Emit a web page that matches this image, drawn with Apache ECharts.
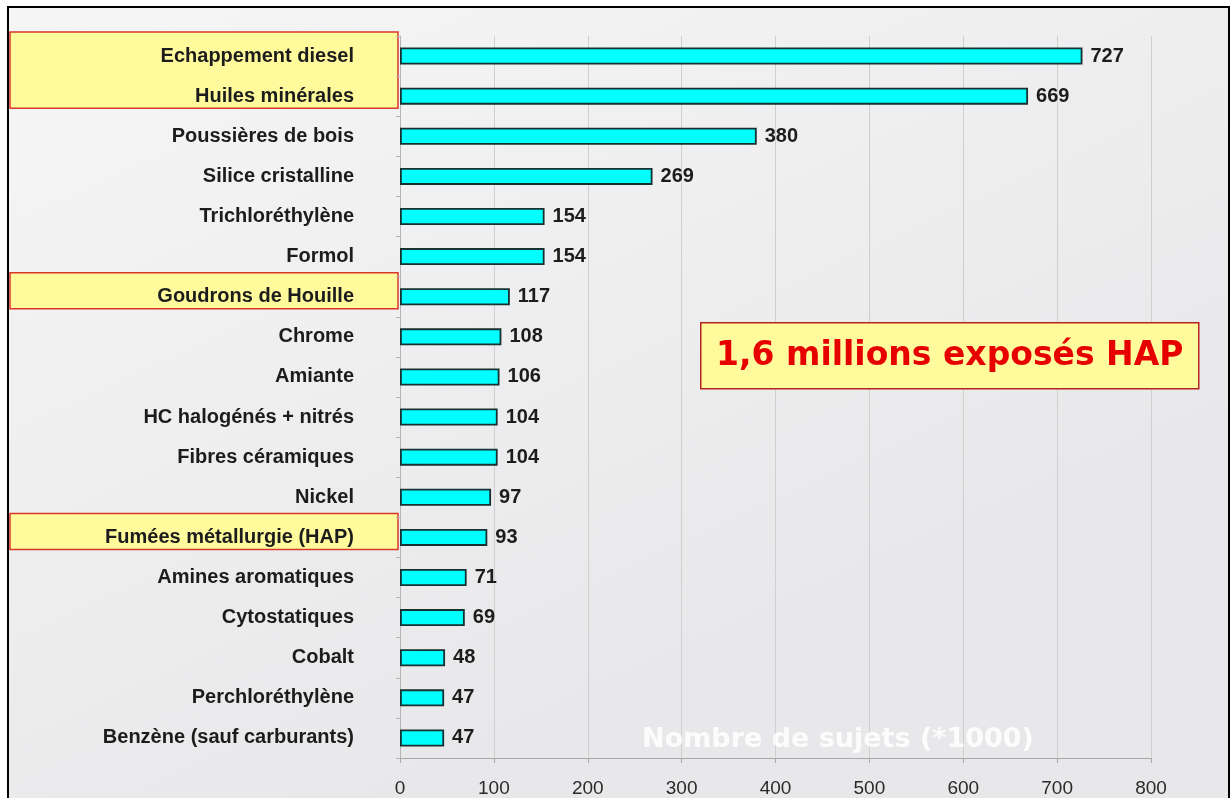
<!DOCTYPE html>
<html>
<head>
<meta charset="utf-8">
<script src="https://cdn.jsdelivr.net/npm/echarts@6.0.0/dist/echarts.min.js"></script>
<style>
    html, body { margin: 0; padding: 0; background: #ffffff; }
    #chart { width: 1231px; height: 798px; }
</style>
</head>
<body>
<div id="chart"></div>
<script>
const categories = [
    "Echappement diesel", "Huiles minérales", "Poussières de bois", "Silice cristalline",
    "Trichloréthylène", "Formol", "Goudrons de Houille", "Chrome", "Amiante",
    "HC halogénés + nitrés", "Fibres céramiques", "Nickel", "Fumées métallurgie (HAP)",
    "Amines aromatiques", "Cytostatiques", "Cobalt", "Perchloréthylène", "Benzène (sauf carburants)"
];
const sujets = [727, 669, 380, 269, 154, 154, 117, 108, 106, 104, 104, 97, 93, 71, 69, 48, 47, 47];

// groups of categories boxed in yellow on the left
const highlighted = [
    ["Echappement diesel", "Huiles minérales"],
    ["Goudrons de Houille"],
    ["Fumées métallurgie (HAP)"]
];

const calloutText = "1,6 millions exposés HAP";
const axisTitle = "Nombre de sujets (*1000)";

const sans = "'Liberation Sans', Arial, sans-serif";
const chart = echarts.init(document.getElementById("chart"));

const option = {
    animation: false,
    backgroundColor: "#ffffff",
    textStyle: { fontFamily: sans },
    grid: { left: 400, right: 80, top: 36, bottom: 40 },
    xAxis: {
        type: "value",
        min: 0,
        max: 800,
        interval: 100,
        axisLine: { show: true, lineStyle: { color: "#a8a8a8", width: 1 } },
        axisTick: { show: true, length: 5, lineStyle: { color: "#a8a8a8" } },
        axisLabel: { color: "#2a2a2a", fontSize: 19, margin: 21 },
        splitLine: { show: true, lineStyle: { color: "#cfcfcf", width: 1 } }
    },
    yAxis: {
        type: "category",
        inverse: true,
        data: categories,
        axisLine: { show: true, lineStyle: { color: "#b5b5b5" } },
        axisTick: { show: true, length: 4, lineStyle: { color: "#b5b5b5" } },
        axisLabel: { color: "#1c1c1c", fontSize: 20, fontWeight: "bold", margin: 46 }
    },
    series: [{
        type: "bar",
        data: sujets,
        barWidth: 17,
        itemStyle: { color: "#00ffff", borderColor: "#173030", borderWidth: 1.8 },
        label: {
            show: true,
            position: "right",
            distance: 8,
            color: "#1c1c1c",
            fontSize: 20,
            fontWeight: "bold"
        }
    }]
};
chart.setOption(option);

// decorations placed from the axis scale once the chart is laid out
const graphics = [
    {
        type: "rect",
        z: -20,
        shape: { x: 8, y: 7, width: 1221, height: 800 },
        style: {
            fill: new echarts.graphic.LinearGradient(0, 0, 0.3, 1, [
                { offset: 0, color: "#f6f6f7" },
                { offset: 1, color: "#e8e8ea" }
            ]),
            stroke: "#000000",
            lineWidth: 2
        }
    }
];

for (const group of highlighted) {
    const yTop = chart.convertToPixel({ yAxisIndex: 0 }, group[0]) - 24;
    const yBot = chart.convertToPixel({ yAxisIndex: 0 }, group[group.length - 1]) + 12;
    graphics.push({
        type: "rect",
        z: -5,
        shape: { x: 10, y: yTop, width: 388, height: yBot - yTop },
        style: { fill: "#fffb9c", stroke: "#d8372a", lineWidth: 1.5 }
    });
}

graphics.push({
    type: "group",
    left: 700,
    top: 322,
    children: [
        {
            type: "rect",
            shape: { x: 0, y: 0, width: 498, height: 66 },
            style: { fill: "#fffb9c", stroke: "#b3261e", lineWidth: 1.5 }
        },
        {
            type: "text",
            x: 249,
            y: 34,
            style: {
                text: calloutText,
                fill: "#e60000",
                font: "bold 33px 'DejaVu Sans', Verdana, sans-serif",
                align: "center",
                verticalAlign: "middle"
            }
        }
    ]
});

graphics.push({
    type: "text",
    x: 838,
    y: 740,
    style: {
        text: axisTitle,
        fill: "rgba(255,255,255,0.85)",
        font: "bold 27px 'DejaVu Sans', Verdana, sans-serif",
        align: "center",
        verticalAlign: "middle"
    }
});

chart.setOption({ graphic: graphics });
</script>
</body>
</html>
